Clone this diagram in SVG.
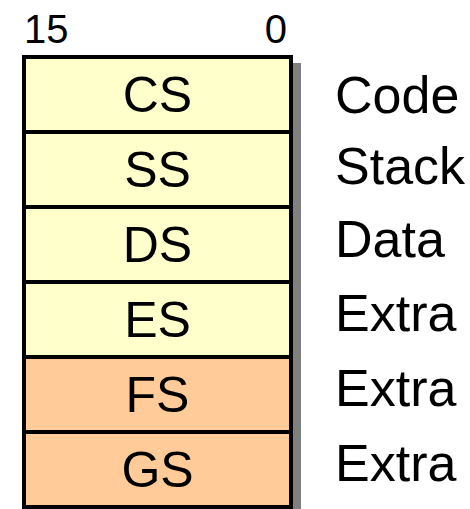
<svg xmlns="http://www.w3.org/2000/svg" width="470" height="509" viewBox="0 0 470 509">
  <style>
    text { font-family: "Liberation Sans", Arial, sans-serif; fill: #000; }
    .bit { font-size: 40px; }
    .reg { font-size: 50px; text-anchor: middle; }
    .lbl { font-size: 52px; }
    .cell { stroke: #000; stroke-width: 4; }
    .lo { fill: #FFFFCC; }
    .hi { fill: #FFCC99; }
  </style>

  <!-- bit numbering -->
  <text class="bit" x="24" y="43">15</text>
  <text class="bit" x="287" y="43" text-anchor="end">0</text>

  <!-- drop shadow behind the register stack -->
  <rect x="30" y="63" width="271" height="460" fill="#808080"/>

  <!-- segment registers, 16 bits each -->
  <g id="cs">
    <rect class="cell lo" x="24" y="57" width="267" height="75"/>
    <text class="reg" x="157.5" y="112">CS</text>
  </g>
  <g id="ss">
    <rect class="cell lo" x="24" y="132" width="267" height="75"/>
    <text class="reg" x="157.5" y="187">SS</text>
  </g>
  <g id="ds">
    <rect class="cell lo" x="24" y="207" width="267" height="75"/>
    <text class="reg" x="157.5" y="262">DS</text>
  </g>
  <g id="es">
    <rect class="cell lo" x="24" y="282" width="267" height="75"/>
    <text class="reg" x="157.5" y="337">ES</text>
  </g>
  <g id="fs">
    <rect class="cell hi" x="24" y="357" width="267" height="75"/>
    <text class="reg" x="157.5" y="412">FS</text>
  </g>
  <g id="gs">
    <rect class="cell hi" x="24" y="432" width="267" height="75"/>
    <text class="reg" x="157.5" y="487">GS</text>
  </g>

  <!-- segment purposes -->
  <g id="purposes">
    <text class="lbl" x="335" y="113">Code</text>
    <text class="lbl" x="335" y="184">Stack</text>
    <text class="lbl" x="335" y="257">Data</text>
    <text class="lbl" x="335" y="331">Extra</text>
    <text class="lbl" x="335" y="406">Extra</text>
    <text class="lbl" x="335" y="481">Extra</text>
  </g>
</svg>
